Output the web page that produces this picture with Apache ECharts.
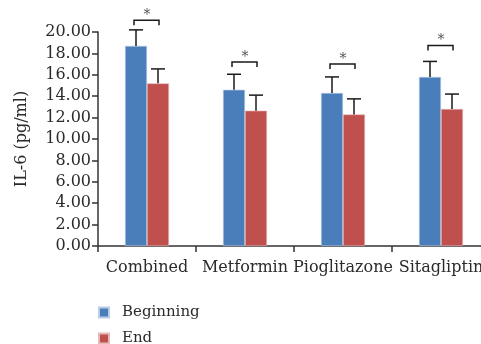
<!DOCTYPE html>
<html>
<head>
<meta charset="utf-8">
<script src="https://cdn.jsdelivr.net/npm/echarts@6/dist/echarts.min.js"></script>
<style>
  html, body { margin: 0; padding: 0; background: #fff; }
  #chart { width: 481px; height: 344px; }
</style>
</head>
<body>
<div id="chart"></div>
<script>
// Treatment groups and IL-6 levels (pg/ml), mean and SD
const categories = ['Combined', 'Metformin', 'Pioglitazone', 'Sitagliptin'];
const beginningMean = [18.7, 14.6, 14.3, 15.8];
const beginningSD = [1.5, 1.45, 1.5, 1.45];
const endMean = [15.2, 12.65, 12.3, 12.8];
const endSD = [1.35, 1.45, 1.45, 1.4];
// Height of the significance bracket above each group
const bracketLevel = [21.1, 17.2, 17.0, 18.75];
const yTicks = [0, 2, 4, 6, 8, 10, 12, 14, 16, 18, 20];

const BLUE = '#4a7ebb';
const RED = '#c0504d';
const FONT = 'DejaVu Serif';
const TEXT = '#2b2b2b';
const BAR_W = 22;

const chart = echarts.init(document.getElementById('chart'), null, { renderer: 'canvas' });

function errorBars(offsetSign, means, sds) {
  return {
    type: 'custom',
    silent: true,
    z: 5,
    data: means.map((m, i) => [i, m, m + sds[i]]),
    renderItem(params, api) {
      const base = api.coord([api.value(0), api.value(1)]);
      const top = api.coord([api.value(0), api.value(2)]);
      const x = base[0] + offsetSign * BAR_W / 2;
      const style = { stroke: '#1a1a1a', lineWidth: 1.5 };
      return {
        type: 'group',
        children: [
          { type: 'line', shape: { x1: x, y1: base[1], x2: x, y2: top[1] }, style },
          { type: 'line', shape: { x1: x - 7, y1: top[1], x2: x + 7, y2: top[1] }, style }
        ]
      };
    }
  };
}

function legendItem(name, top) {
  return {
    left: 93,
    top: top,
    itemWidth: 10,
    itemHeight: 10,
    icon: 'rect',
    textStyle: { fontFamily: FONT, fontSize: 15, color: TEXT, padding: [0, 0, 0, 8] },
    data: [name]
  };
}

const option = {
  animation: false,
  backgroundColor: '#fff',
  textStyle: { fontFamily: FONT, color: TEXT },
  // the category axis runs past the right edge of the canvas
  grid: { left: 98, width: 392, top: 32, bottom: 98, containLabel: false, outerBoundsMode: 'none' },
  legend: [legendItem('Beginning', 300), legendItem('End', 326)],
  xAxis: {
    type: 'category',
    data: categories,
    axisLine: { lineStyle: { color: '#333', width: 1.5 } },
    axisTick: { show: true, length: 6, alignWithLabel: false, lineStyle: { color: '#333', width: 1.5 } },
    axisLabel: { fontFamily: FONT, fontSize: 16, color: TEXT, margin: 14, interval: 0 },
    splitLine: { show: false }
  },
  yAxis: {
    type: 'value',
    min: yTicks[0],
    max: yTicks[yTicks.length - 1],
    interval: 2,
    name: 'IL-6 (pg/ml)',
    nameLocation: 'middle',
    nameRotate: 90,
    nameGap: 68,
    nameTextStyle: { fontFamily: FONT, fontSize: 16, color: TEXT },
    axisLine: { show: true, lineStyle: { color: '#333', width: 1.5 } },
    axisTick: { show: true, length: 6, lineStyle: { color: '#333', width: 1.5 } },
    axisLabel: { fontFamily: FONT, fontSize: 16, color: TEXT, margin: 7, formatter: v => v.toFixed(2) },
    splitLine: { show: false }
  },
  series: [
    {
      name: 'Beginning',
      type: 'bar',
      data: beginningMean,
      barWidth: BAR_W,
      barGap: '0%',
      itemStyle: { color: BLUE, borderColor: '#b9cde6', borderWidth: 0.6 }
    },
    {
      name: 'End',
      type: 'bar',
      data: endMean,
      barWidth: BAR_W,
      barGap: '0%',
      itemStyle: { color: RED, borderColor: '#e6b9b8', borderWidth: 0.6 }
    },
    errorBars(-1, beginningMean, beginningSD),
    errorBars(1, endMean, endSD),
    {
      type: 'custom',
      silent: true,
      z: 6,
      data: bracketLevel.map((v, i) => [i, v]),
      renderItem(params, api) {
        const p = api.coord([api.value(0), api.value(1)]);
        const x1 = p[0] - 13, x2 = p[0] + 12, y = p[1];
        const style = { stroke: '#1a1a1a', lineWidth: 1.5, fill: null };
        return {
          type: 'group',
          children: [
            { type: 'polyline', shape: { points: [[x1, y + 5], [x1, y], [x2, y], [x2, y + 5]] }, style },
            {
              type: 'text',
              style: {
                text: '*', x: p[0], y: y - 5,
                align: 'center', verticalAlign: 'middle',
                font: '14px "DejaVu Serif"', fill: '#555'
              }
            }
          ]
        };
      }
    }
  ]
};

chart.setOption(option);
</script>
</body>
</html>
